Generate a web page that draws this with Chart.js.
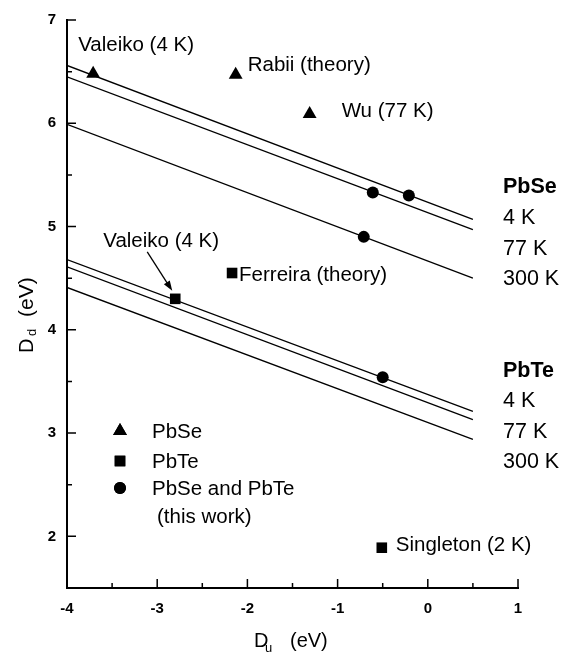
<!DOCTYPE html>
<html>
<head>
<meta charset="utf-8">
<script src="https://cdn.jsdelivr.net/npm/chart.js@4"></script>
<style>
  body { margin: 0; background: #fff; }
  canvas { display: block; }
</style>
</head>
<body>
<canvas id="chartDd" width="580" height="652"></canvas>
<script>
// Retas Dd x Du (eV), de Du = -4 até 0,5
const lineX = [-4, 0.5];
const pbse4K = [6.56, 5.07];
const pbse77K = [6.45, 4.97];
const pbse300K = [5.99, 4.50];
const pbte4K = [4.68, 3.21];
const pbte77K = [4.61, 3.13];
const pbte300K = [4.41, 2.94];

// Valores da literatura - PbSe (triângulos)
const pbseRefNames = ['Valeiko (4 K)', 'Rabii (theory)', 'Wu (77 K)'];
const pbseRefX = [-3.71, -2.13, -1.31];
const pbseRefY = [6.48, 6.47, 6.09];

// Valores da literatura - PbTe (quadrados)
const pbteRefNames = ['Valeiko (4 K)', 'Ferreira (theory)', 'Singleton (2 K)'];
const pbteRefX = [-2.80, -2.17, -0.51];
const pbteRefY = [4.30, 4.55, 1.89];

// Este trabalho (círculos)
const thisWorkX = [-0.21, -0.61, -0.71, -0.50];
const thisWorkY = [5.30, 5.33, 4.90, 3.54];

// Eixos
const xTicks = [-4, -3, -2, -1, 0, 1];
const xMinor = [-3.5, -2.5, -1.5, -0.5, 0.5];
const yTicks = [2, 3, 4, 5, 6, 7];
const yMinor = [2.5, 3.5, 4.5, 5.5, 6.5];

// Textos à direita e legenda
const pbseTemps = ['4 K', '77 K', '300 K'];
const pbteTemps = ['4 K', '77 K', '300 K'];
const legendNames = ['PbSe', 'PbTe', 'PbSe and PbTe'];

const FONTE = '"Liberation Sans", Arial, sans-serif';

function pares(xs, ys) {
    return xs.map((x, i) => ({ x: x, y: ys[i] }));
}

function marcador(xs, ys, estilo, raio) {
    return {
        type: 'scatter',
        data: pares(xs, ys),
        pointStyle: estilo,
        pointRadius: raio,
        pointHoverRadius: raio,
        backgroundColor: '#000',
        borderColor: '#000',
        borderWidth: 0
    };
}

function reta(ys) {
    return {
        type: 'line',
        data: pares(lineX, ys),
        borderColor: '#000',
        borderWidth: 1.3,
        pointRadius: 0,
        fill: false,
        tension: 0
    };
}

// deslocamentos (px) dos rótulos em relação ao marcador
const pbseRefOff = [[-15, -23], [12, -4], [32, 3]];
const pbteRefOff = [[-72, -52], [7, 8], [14, 3]];

const desenhos = {
    id: 'desenhos',
    afterDraw(chart) {
        const ctx = chart.ctx;
        const a = chart.chartArea;
        const sx = chart.scales.x;
        const sy = chart.scales.y;
        ctx.save();
        ctx.fillStyle = '#000';
        ctx.strokeStyle = '#000';

        // ticks para dentro
        ctx.lineWidth = 1.5;
        ctx.beginPath();
        xTicks.forEach(v => { const p = sx.getPixelForValue(v); ctx.moveTo(p, a.bottom); ctx.lineTo(p, a.bottom - 9); });
        xMinor.forEach(v => { const p = sx.getPixelForValue(v); ctx.moveTo(p, a.bottom); ctx.lineTo(p, a.bottom - 5); });
        yTicks.forEach(v => { const p = sy.getPixelForValue(v); ctx.moveTo(a.left, p); ctx.lineTo(a.left + 9, p); });
        yMinor.forEach(v => { const p = sy.getPixelForValue(v); ctx.moveTo(a.left, p); ctx.lineTo(a.left + 5, p); });
        ctx.stroke();

        ctx.font = '20.5px ' + FONTE;
        ctx.textBaseline = 'alphabetic';
        ctx.textAlign = 'left';

        pbseRefNames.forEach((t, i) => {
            const px = sx.getPixelForValue(pbseRefX[i]);
            const py = sy.getPixelForValue(pbseRefY[i]);
            ctx.fillText(t, px + pbseRefOff[i][0], py + pbseRefOff[i][1]);
        });
        pbteRefNames.forEach((t, i) => {
            const px = sx.getPixelForValue(pbteRefX[i]);
            const py = sy.getPixelForValue(pbteRefY[i]);
            ctx.fillText(t, px + pbteRefOff[i][0], py + pbteRefOff[i][1]);
        });

        // seta do Valeiko (PbTe)
        const vx = sx.getPixelForValue(pbteRefX[0]);
        const vy = sy.getPixelForValue(pbteRefY[0]);
        const x0 = vx - 28, y0 = vy - 47, x1 = vx - 3, y1 = vy - 8;
        const ang = Math.atan2(y1 - y0, x1 - x0);
        ctx.lineWidth = 1.3;
        ctx.beginPath();
        ctx.moveTo(x0, y0);
        ctx.lineTo(x1 - 6 * Math.cos(ang), y1 - 6 * Math.sin(ang));
        ctx.stroke();
        ctx.beginPath();
        ctx.moveTo(x1, y1);
        ctx.lineTo(x1 - 10 * Math.cos(ang) + 3.5 * Math.sin(ang), y1 - 10 * Math.sin(ang) - 3.5 * Math.cos(ang));
        ctx.lineTo(x1 - 10 * Math.cos(ang) - 3.5 * Math.sin(ang), y1 - 10 * Math.sin(ang) + 3.5 * Math.cos(ang));
        ctx.closePath();
        ctx.fill();

        // rótulos das retas
        ctx.font = 'bold 21.5px ' + FONTE;
        ctx.fillText('PbSe', 503, 193);
        ctx.fillText('PbTe', 503, 377);
        ctx.font = '21.5px ' + FONTE;
        pbseTemps.forEach((t, i) => ctx.fillText(t, 503, 224 + i * 30.5));
        pbteTemps.forEach((t, i) => ctx.fillText(t, 503, 407 + i * 30.5));

        // legenda
        ctx.font = '20.5px ' + FONTE;
        const simbolos = [['triangle', 8, 431], ['rect', 7.5, 461], ['circle', 6, 488]];
        legendNames.forEach((t, i) => {
            const y = simbolos[i][2];
            Chart.helpers.drawPoint(ctx, { pointStyle: simbolos[i][0], radius: simbolos[i][1], borderWidth: 0 }, 120, y);
            ctx.fill();
        });
        ctx.fillText(legendNames[0], 152, 438);
        ctx.fillText(legendNames[1], 152, 468);
        ctx.fillText(legendNames[2], 152, 495);
        ctx.fillText('(this work)', 157, 523);

        // títulos dos eixos
        ctx.font = '20px ' + FONTE;
        ctx.fillText('D', 254, 647);
        ctx.font = '13px ' + FONTE;
        ctx.fillText('u', 265, 652);
        ctx.font = '20px ' + FONTE;
        ctx.fillText('(eV)', 290, 647);

        ctx.translate(33, 353);
        ctx.rotate(-Math.PI / 2);
        ctx.fillText('D', 0, 0);
        ctx.font = '13px ' + FONTE;
        ctx.fillText('d', 17, 3);
        ctx.font = '21px ' + FONTE;
        ctx.fillText('(eV)', 36, 0);

        ctx.restore();
    }
};

new Chart(document.getElementById('chartDd').getContext('2d'), {
    data: {
        datasets: [
            marcador(thisWorkX, thisWorkY, 'circle', 6),
            marcador(pbseRefX, pbseRefY, 'triangle', 8),
            marcador(pbteRefX, pbteRefY, 'rect', 7.5),
            reta(pbse4K),
            reta(pbse77K),
            reta(pbse300K),
            reta(pbte4K),
            reta(pbte77K),
            reta(pbte300K)
        ]
    },
    options: {
        responsive: false,
        animation: false,
        layout: { padding: { left: 0, right: 62, top: 12, bottom: 0 } },
        plugins: { legend: { display: false }, tooltip: { enabled: false } },
        scales: {
            x: {
                type: 'linear',
                min: -4,
                max: 1,
                afterBuildTicks: s => { s.ticks = xTicks.map(v => ({ value: v })); },
                afterFit: s => { s.height = 64; },
                grid: { display: false, drawTicks: false },
                border: { display: true, color: '#000', width: 2 },
                ticks: { color: '#000', padding: 12, font: { family: FONTE, size: 15, weight: 'bold' } }
            },
            y: {
                type: 'linear',
                min: 1.5,
                max: 7,
                afterBuildTicks: s => { s.ticks = yTicks.map(v => ({ value: v })); },
                afterFit: s => { s.width = 67; },
                grid: { display: false, drawTicks: false },
                border: { display: true, color: '#000', width: 2 },
                ticks: { color: '#000', padding: 11, font: { family: FONTE, size: 15, weight: 'bold' } }
            }
        }
    },
    plugins: [desenhos]
});
</script>
</body>
</html>
